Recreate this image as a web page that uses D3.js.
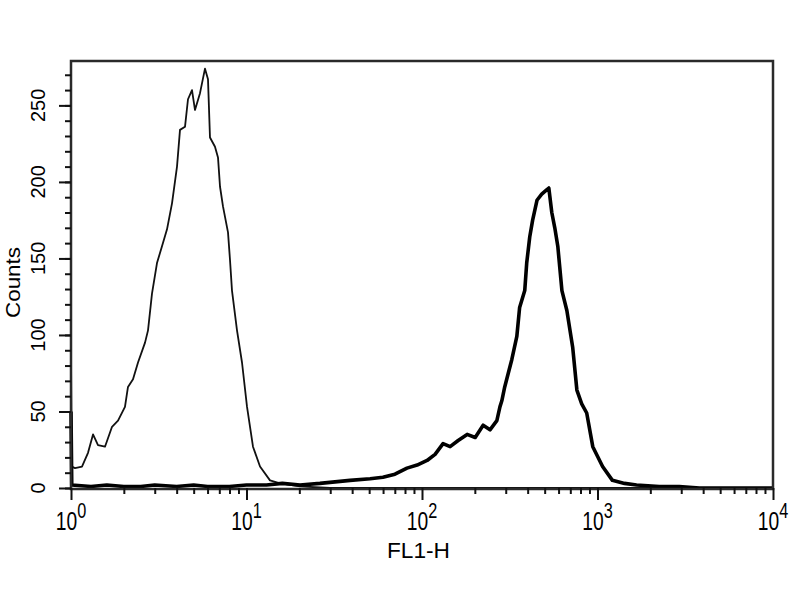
<!DOCTYPE html>
<html>
<head>
<meta charset="utf-8">
<script src="https://cdn.jsdelivr.net/npm/d3@7"></script>
<style>
  html, body { margin: 0; padding: 0; background: #fff; }
  svg { display: block; }
  text { font-family: "Liberation Sans", Arial, Helvetica, sans-serif; fill: #000; }
</style>
</head>
<body>
<svg id="chart" width="800" height="600"></svg>
<script>
// ---- data ----
const fl1Control = [1.00, 1.01, 1.054, 1.155, 1.25, 1.335, 1.425, 1.562, 1.713, 1.853, 2.03, 2.112, 2.256, 2.409, 2.641, 2.747, 2.894, 3.09, 3.30, 3.524, 3.763, 4.018, 4.179, 4.462, 4.641, 4.891, 5.087, 5.433, 5.801, 6.034, 6.194, 6.614, 6.88, 7.063, 7.346, 7.845, 8.054, 8.267, 8.828, 9.428, 10.07, 10.89, 11.94, 13.61, 15.53, 20.17, 29.9, 100, 1000, 10000];
const countsControl = [86, 14, 13, 14, 23, 35, 28, 27, 40, 44, 53, 66, 71, 82, 95, 103, 127, 147, 158, 169, 186, 210, 234, 236, 254, 260, 247, 258, 274, 267, 229, 223, 216, 197, 184, 167, 149, 129, 103, 82, 53, 27, 14, 5, 3, 1, 0, 0, 0, 0];

const fl1Sample = [1.00, 1.01, 1.3, 1.6, 2.0, 2.5, 3.0, 4.0, 5.0, 6.0, 8.0, 10, 13, 16, 20.2, 26.2, 38.9, 50.6, 59.9, 70.1, 82.1, 93.8, 106.9, 118.7, 131.8, 144.6, 160.7, 180.8, 201, 223, 244, 267, 278, 285, 296, 325, 347, 360, 385, 395, 411, 427, 452, 481, 515, 528, 549, 571, 594, 627, 669, 722, 763, 813, 868, 940, 1069, 1216, 1425, 1669, 2250, 2923, 3810, 5630, 10000];
const countsSample = [50, 2, 1, 2, 1, 1, 2, 1, 2, 1, 1, 2, 2, 3, 2, 3, 5, 6, 7, 9, 13, 15, 18, 22, 29, 27, 31, 35, 33, 41, 38, 44, 53, 57, 66, 84, 99, 118, 129, 147, 164, 175, 188, 192, 195, 196, 180, 170, 158, 129, 116, 92, 64, 55, 49, 27, 14, 5, 3, 2, 1, 1, 0, 0, 0];

const yTickValues = [0, 50, 100, 150, 200, 250];
const xDecades = [0, 1, 2, 3, 4];
const xTitle = "FL1-H";
const yTitle = "Counts";

// ---- layout ----
const plotL = 71, plotR = 773, plotT = 61, plotB = 488;
const svg = d3.select("#chart");

const x = d3.scaleLog().domain([1, 10000]).range([plotL, plotR]);
const y = d3.scaleLinear().domain([0, 279]).range([plotB, plotT]);

// data lines
const line = d3.line().x(d => x(d[0])).y(d => y(d[1])).curve(d3.curveLinear);
const controlData = fl1Control.map((v, i) => [v, countsControl[i]]);
const sampleData = fl1Sample.map((v, i) => [v, countsSample[i]]);

svg.append("path").datum(controlData)
  .attr("d", line).attr("fill", "none").attr("stroke", "#111")
  .attr("stroke-width", 1.8).attr("stroke-linejoin", "round");

svg.append("path").datum(sampleData)
  .attr("d", line).attr("fill", "none").attr("stroke", "#000")
  .attr("stroke-width", 3.6).attr("stroke-linejoin", "round");

// frame
svg.append("rect")
  .attr("x", plotL).attr("y", plotT)
  .attr("width", plotR - plotL).attr("height", plotB + 1 - plotT)
  .attr("fill", "none").attr("stroke", "#2a2a2a").attr("stroke-width", 2.5);

// Y axis ticks (major every 50, minor every 10)
const yMinor = d3.range(0, 280, 10);
const yAxisMinor = d3.axisLeft(y).tickValues(yMinor).tickSize(6).tickFormat("");
const yAxisMajor = d3.axisLeft(y).tickValues(yTickValues).tickSize(12).tickFormat("");
[yAxisMinor, yAxisMajor].forEach(ax => {
  const g = svg.append("g").attr("transform", `translate(${plotL},0)`).call(ax);
  g.select(".domain").remove();
  g.selectAll("line").attr("stroke", "#111").attr("stroke-width", 2);
});

// Y tick labels (rotated)
svg.append("g").selectAll("text").data(yTickValues).join("text")
  .attr("transform", d => `translate(45,${y(d)}) rotate(-90)`)
  .attr("text-anchor", "middle")
  .attr("font-size", 20)
  .text(d => d);

// X axis ticks (log: majors at decades, minors 2..9)
const xMinor = [];
xDecades.slice(0, -1).forEach(k => { for (let m = 2; m <= 9; m++) xMinor.push(m * Math.pow(10, k)); });
const xMajor = xDecades.map(k => Math.pow(10, k));
const xAxisMinor = d3.axisBottom(x).tickValues(xMinor).tickSize(6).tickFormat("");
const xAxisMajor = d3.axisBottom(x).tickValues(xMajor).tickSize(12).tickFormat("");
[xAxisMinor, xAxisMajor].forEach(ax => {
  const g = svg.append("g").attr("transform", `translate(0,${plotB})`).call(ax);
  g.select(".domain").remove();
  g.selectAll("line").attr("stroke", "#111").attr("stroke-width", 2);
});

// X tick labels 10^k
const xl = svg.append("g").selectAll("g").data(xDecades).join("g")
  .attr("transform", d => `translate(${x(Math.pow(10, d))},530) scale(0.74,1)`);
const xt = xl.append("text").attr("text-anchor", "middle").attr("font-size", 26);
xt.append("tspan").text("10");
xt.append("tspan").attr("font-size", 22).attr("dy", -12).text(d => d);

// Axis titles
svg.append("text")
  .attr("x", 387).attr("y", 558)
  .attr("font-size", 22)
  .attr("textLength", 63).attr("lengthAdjust", "spacingAndGlyphs")
  .text(xTitle);

svg.append("text")
  .attr("transform", "translate(20,318) rotate(-90)")
  .attr("font-size", 21)
  .attr("textLength", 71).attr("lengthAdjust", "spacingAndGlyphs")
  .text(yTitle);
</script>
</body>
</html>
